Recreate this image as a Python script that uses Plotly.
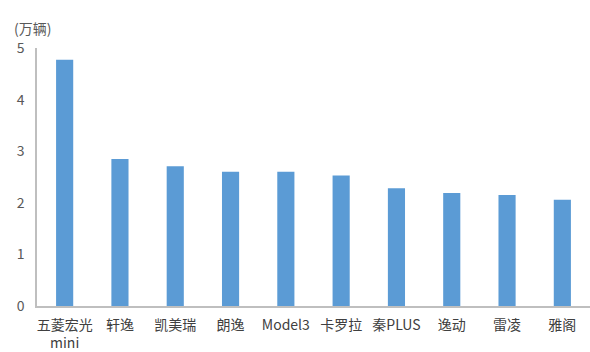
import plotly.graph_objects as go

categories = ["五菱宏光<br>mini", "轩逸", "凯美瑞", "朗逸", "Model3", "卡罗拉", "秦PLUS", "逸动", "雷凌", "雅阁"]
sales = [4.77, 2.85, 2.71, 2.60, 2.60, 2.53, 2.28, 2.19, 2.15, 2.06]
y_ticks = [0, 1, 2, 3, 4, 5]
unit_label = "(万辆)"

font_family = "Noto Sans CJK SC, Noto Sans, sans-serif"

fig = go.Figure(go.Bar(
    x=categories, y=sales,
    marker=dict(color="#5B9BD5", line=dict(width=0)),
    width=0.31,
))

fig.update_layout(
    width=590, height=352,
    margin=dict(l=37, r=0, t=48, b=46),
    plot_bgcolor="white", paper_bgcolor="white",
    showlegend=False,
    font=dict(family=font_family, size=13, color="#595959"),
    annotations=[dict(
        text=unit_label, xref="paper", yref="paper",
        x=-0.045, y=1.0, xanchor="left", yanchor="bottom", yshift=8,
        showarrow=False, font=dict(size=14, color="#595959", family=font_family),
    )],
)
fig.update_xaxes(
    showline=True, linecolor="#BFBFBF", linewidth=1.5,
    ticks="outside", ticklen=5, tickcolor="rgba(0,0,0,0)",
    tickfont=dict(size=14, color="#404040"),
    showgrid=False, tickangle=0,
)
fig.update_yaxes(
    range=[0, 5], tickvals=y_ticks,
    showline=True, linecolor="#BFBFBF", linewidth=1.5,
    ticks="outside", ticklen=8, tickcolor="rgba(0,0,0,0)",
    tickfont=dict(size=14, color="#595959"),
    showgrid=False, zeroline=False,
)

fig.write_html("out.html")
